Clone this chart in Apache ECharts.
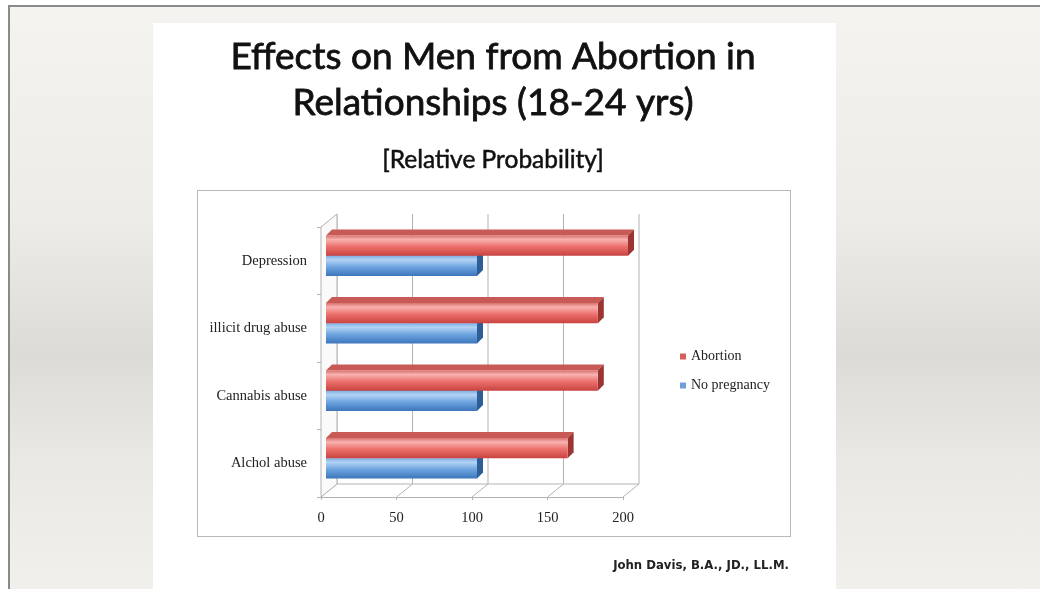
<!DOCTYPE html>
<html>
<head>
<meta charset="utf-8">
<script src="https://cdn.jsdelivr.net/npm/echarts@6/dist/echarts.min.js"></script>
<style>
  html, body { margin: 0; padding: 0; width: 1040px; height: 589px; overflow: hidden; background: #fff; }
  #frame {
    position: absolute; left: 8px; top: 5px; width: 1040px; height: 600px;
    border-left: 2px solid #8a8a8a; border-top: 2px solid #8a8a8a;
    background: linear-gradient(to bottom, #f5f3ef 0%, #eeece8 35%, #dcdbd7 58%, #e9e8e4 75%, #f3f1ed 100%);
  }
  #slide { position: absolute; left: 153px; top: 23px; width: 683px; height: 580px; background: #fff; }
  #box { position: absolute; left: 197px; top: 190px; width: 592px; height: 345px; border: 1.5px solid #b8b8b8; }
  #chart { position: absolute; left: 0; top: 0; width: 1040px; height: 589px; }
</style>
</head>
<body>
<div id="frame"></div>
<div id="slide"></div>
<div id="box"></div>
<div id="chart"></div>
<script>
// categories bottom -> top, as the category axis draws them
const categories = ["Alchol abuse", "Cannabis abuse", "illicit drug abuse", "Depression"];
const abortion = [160, 180, 180, 200];
const noPregnancy = [100, 100, 100, 100];
const xTicks = [0, 50, 100, 150, 200];

const titleLines = ["Effects on Men from Abortion in", "Relationships (18-24 yrs)"];
const subtitle = "[Relative Probability]";
const author = "John Davis, B.A., JD., LL.M.";

// depth of the fake 3D box and of the bars
const wallDx = 16, wallDy = 13;
const barDx = 5, barDy = 5, barDepth = 6;

const chartDom = document.getElementById("chart");
const myChart = echarts.init(chartDom, null, { renderer: "canvas" });

const renderWall = (params, api) => {
  const sys = params.coordSys;
  const x = api.coord([api.value(0), 0])[0];
  const top = sys.y, bottom = sys.y + sys.height;
  const line = { stroke: "#b3b3b3", lineWidth: 1 };
  const children = [
    { type: "line", shape: { x1: x + wallDx, y1: top - wallDy, x2: x + wallDx, y2: bottom - wallDy }, style: line },
    { type: "line", shape: { x1: x, y1: bottom, x2: x + wallDx, y2: bottom - wallDy }, style: line },
  ];
  if (params.dataIndex === 0) {
    const xEnd = api.coord([xTicks[xTicks.length - 1], 0])[0];
    children.push({
      type: "polygon",
      shape: { points: [[x, top], [x + wallDx, top - wallDy], [x + wallDx, bottom - wallDy], [x, bottom]] },
      style: { fill: "#fafafa", stroke: "#b3b3b3", lineWidth: 1 },
    });
    children.push({ type: "line", shape: { x1: x + wallDx, y1: bottom - wallDy, x2: xEnd + wallDx, y2: bottom - wallDy }, style: line });
  }
  return { type: "group", children: children };
};

const makeBarRender = (slot, front, topC, endC) => (params, api) => {
  const band = api.size([0, 1])[1];
  const h = band * 0.3;
  const cy = api.coord([0, api.value(1)])[1];
  const x0 = api.coord([0, api.value(1)])[0] + barDx;
  const x1 = api.coord([api.value(0), api.value(1)])[0] + barDx;
  const y = slot === 0 ? cy - h - barDy : cy - barDy;
  const d = barDepth;
  return {
    type: "group",
    children: [
      {
        type: "polygon",
        shape: { points: [[x0, y], [x0 + d, y - d], [x1 + d, y - d], [x1, y]] },
        style: { fill: topC },
      },
      {
        type: "polygon",
        shape: { points: [[x1, y], [x1 + d, y - d], [x1 + d, y + h - d], [x1, y + h]] },
        style: { fill: endC },
      },
      {
        type: "rect",
        shape: { x: x0, y: y, width: x1 - x0, height: h },
        style: { fill: front },
      },
    ],
  };
};

const redFront = new echarts.graphic.LinearGradient(0, 0, 0, 1, [
  { offset: 0, color: "#d9716e" },
  { offset: 0.2, color: "#f8b2af" },
  { offset: 0.55, color: "#ec706c" },
  { offset: 1, color: "#c8433f" },
]);
const blueFront = new echarts.graphic.LinearGradient(0, 0, 0, 1, [
  { offset: 0, color: "#7eaee3" },
  { offset: 0.2, color: "#b3d3f4" },
  { offset: 0.55, color: "#6ea4df" },
  { offset: 1, color: "#3c76bb" },
]);

const labelFont = { fontFamily: "Liberation Serif", fontSize: 14.5, color: "#222" };

const option = {
  animation: false,
  textStyle: { fontFamily: "Liberation Serif" },
  graphic: [
    {
      type: "text", z: 10,
      style: {
        text: titleLines.join("\n"), x: 493, y: 34, align: "center", verticalAlign: "top",
        font: "37px Lato", lineHeight: 46, fill: "#111", stroke: "#111", lineWidth: 0.8,
      },
    },
    {
      type: "text", z: 10,
      style: { text: subtitle, x: 493, y: 160, align: "center", verticalAlign: "middle", font: "24.5px Lato", fill: "#111", stroke: "#111", lineWidth: 0.5 },
    },
    {
      type: "text", z: 10,
      style: { text: author, x: 789, y: 566, align: "right", verticalAlign: "middle", font: "bold 13px 'Liberation Sans Narrow', 'DejaVu Sans Condensed', sans-serif", fill: "#222" },
    },
  ],
  legend: {
    orient: "vertical",
    left: 675,
    top: 344,
    itemWidth: 6,
    itemHeight: 6,
    itemGap: 14,
    icon: "rect",
    textStyle: { fontFamily: "Liberation Serif", fontSize: 14, color: "#222", lineHeight: 15 },
    data: [
      { name: "Abortion", itemStyle: { color: "#d4605c" } },
      { name: "No pregnancy", itemStyle: { color: "#6f9fd6" } },
    ],
  },
  grid: { left: 321, width: 302, top: 227, height: 270 },
  xAxis: {
    type: "value",
    min: 0,
    max: 200,
    interval: 50,
    axisLine: { show: true, lineStyle: { color: "#b3b3b3", width: 1 } },
    axisTick: { show: true, length: 3, lineStyle: { color: "#b3b3b3" } },
    splitLine: { show: false },
    axisLabel: Object.assign({ margin: 14 }, labelFont),
  },
  yAxis: {
    type: "category",
    data: categories,
    axisLine: { show: true, lineStyle: { color: "#b3b3b3", width: 1 } },
    axisTick: { show: true, length: 4, lineStyle: { color: "#b3b3b3" } },
    axisLabel: Object.assign({ margin: 14, padding: [4, 0, 0, 0] }, labelFont),
  },
  series: [
    {
      name: "wall",
      type: "custom",
      z: 1,
      silent: true,
      renderItem: renderWall,
      data: xTicks.map((v) => [v, 0]),
      encode: { x: 0, y: 1 },
    },
    {
      name: "No pregnancy",
      type: "custom",
      z: 3,
      itemStyle: { color: "#6f9fd6" },
      renderItem: makeBarRender(1, blueFront, "#4e84c4", "#2d5e98"),
      data: noPregnancy.map((v, i) => [v, i]),
      encode: { x: 0, y: 1 },
    },
    {
      name: "Abortion",
      type: "custom",
      z: 4,
      itemStyle: { color: "#d4605c" },
      renderItem: makeBarRender(0, redFront, "#c85a56", "#9c3431"),
      data: abortion.map((v, i) => [v, i]),
      encode: { x: 0, y: 1 },
    },
  ],
};

option && myChart.setOption(option);
</script>
</body>
</html>
